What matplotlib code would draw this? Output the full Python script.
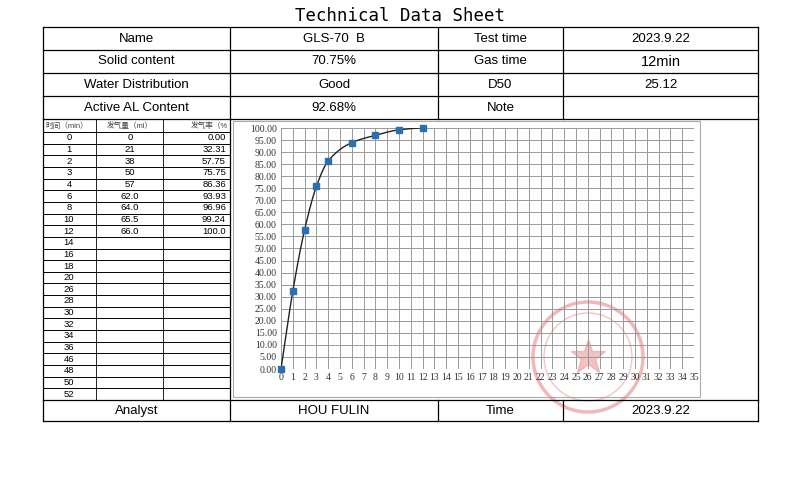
import numpy as np
import matplotlib.pyplot as plt
from matplotlib.patches import Circle

plt.rcParams['font.family'] = ['Liberation Sans', 'Noto Sans CJK SC', 'DejaVu Sans']

time_min = [0, 1, 2, 3, 4, 6, 8, 10, 12]
gas_ml = ['0', '21', '38', '50', '57', '62.0', '64.0', '65.5', '66.0']
gas_rate = [0.00, 32.31, 57.75, 75.75, 86.36, 93.93, 96.96, 99.24, 100.0]
rate_labels = ['0.00', '32.31', '57.75', '75.75', '86.36', '93.93', '96.96', '99.24', '100.0']
extra_times = [14, 16, 18, 20, 26, 28, 30, 32, 34, 36, 46, 48, 50, 52]

head_rows = [
    ('Name', 'GLS-70  B', 'Test time', '2023.9.22'),
    ('Solid content', '70.75%', 'Gas time', '12min'),
    ('Water Distribution', 'Good', 'D50', '25.12'),
    ('Active AL Content', '92.68%', 'Note', ''),
]
foot_row = ('Analyst', 'HOU FULIN', 'Time', '2023.9.22')

W, H = 800, 486
fig = plt.figure(figsize=(8, 4.86), dpi=100)
ax = fig.add_axes([0, 0, 1, 1])
ax.set_xlim(0, W)
ax.set_ylim(H, 0)
ax.axis('off')

lw = 0.9
cols = [43, 230, 438, 563, 758]
ax.text(400, 16, 'Technical Data Sheet', ha='center', va='center',
        fontsize=12.5, family='DejaVu Sans Mono')

# header rows
row_y = [27, 50, 73, 96, 119]
for i, row in enumerate(head_rows):
    yc = (row_y[i] + row_y[i + 1]) / 2
    for j, t in enumerate(row):
        fs = 10.5 if (i == 1 and j == 3) else 9.5
        ax.text((cols[j] + cols[j + 1]) / 2, yc, t, ha='center', va='center', fontsize=fs)
for y in row_y:
    ax.plot([43, 758], [y, y], color='black', lw=lw)
for x in cols:
    ax.plot([x, x], [27, 119], color='black', lw=lw)

# footer
ax.plot([43, 758], [400, 400], color='black', lw=lw)
ax.plot([43, 758], [421, 421], color='black', lw=lw)
for x in cols:
    ax.plot([x, x], [400, 421], color='black', lw=lw)
for j, t in enumerate(foot_row):
    ax.text((cols[j] + cols[j + 1]) / 2, 410.5, t, ha='center', va='center', fontsize=9.5)
ax.plot([43, 43], [119, 400], color='black', lw=lw)
ax.plot([758, 758], [119, 400], color='black', lw=lw)
ax.plot([230, 230], [119, 400], color='black', lw=lw)

# small data table
ax.plot([96, 96], [119, 400], color='black', lw=0.6)
ax.plot([163, 163], [119, 400], color='black', lw=0.6)
ax.text(45, 126, '时间（min）', ha='left', va='center', fontsize=5.5, color='#444')
ax.text(130, 126, '发气量（ml）', ha='center', va='center', fontsize=5.5, color='#444')
ax.text(228, 126, '发气率（%', ha='right', va='center', fontsize=5.5, color='#444')
all_times = time_min + extra_times
step = (400 - 132) / len(all_times)
for k, t in enumerate(all_times):
    y0 = 132 + k * step
    ax.plot([43, 230], [y0, y0], color='black', lw=0.7)
    yc = y0 + step / 2
    ax.text(69, yc, str(t), ha='center', va='center', fontsize=6.8)
    if k < len(time_min):
        ax.text(130, yc, gas_ml[k], ha='center', va='center', fontsize=6.8)
        ax.text(226, yc, rate_labels[k], ha='right', va='center', fontsize=6.8)

# chart frame
ax.add_patch(plt.Rectangle((233, 121), 467, 276, fill=False, ec='#aaaaaa', lw=0.8))

# stamp
ax.add_patch(Circle((588, 357), 55, fill=False, ec='#e88a8a', lw=2.5, alpha=0.6))
ax.add_patch(Circle((588, 357), 44, fill=False, ec='#e88a8a', lw=1, alpha=0.5))
ax.plot([588], [357], marker='*', ms=26, color='#ec9a9a', alpha=0.6)

# chart
x0, x1 = 281, 694
y0p, y1p = 369, 128
cax = fig.add_axes([x0 / W, 1 - y0p / H, (x1 - x0) / W, (y0p - y1p) / H])
cax.set_xlim(0, 35)
cax.set_ylim(0, 100)
cax.set_xticks(range(0, 36))
cax.set_yticks(np.arange(0, 101, 5))
cax.set_yticklabels(['%.2f' % v for v in np.arange(0, 101, 5)])
cax.grid(True, color='#999999', lw=0.7)
cax.set_axisbelow(True)
for s in cax.spines.values():
    s.set_visible(False)
cax.tick_params(length=0, labelsize=7, colors='#333333', pad=3)
for lab in cax.get_xticklabels() + cax.get_yticklabels():
    lab.set_family('Liberation Serif')
cax.patch.set_alpha(0)


def pchip(x, y, xs):
    x = np.asarray(x, float)
    y = np.asarray(y, float)
    h = np.diff(x)
    d = np.diff(y) / h
    m = np.zeros_like(y)
    for i in range(1, len(x) - 1):
        if d[i - 1] * d[i] > 0:
            w1 = 2 * h[i] + h[i - 1]
            w2 = h[i] + 2 * h[i - 1]
            m[i] = (w1 + w2) / (w1 / d[i - 1] + w2 / d[i])
    m[0] = d[0]
    m[-1] = d[-1] * 0.2
    out = []
    for xv in xs:
        i = min(np.searchsorted(x, xv, side='right') - 1, len(x) - 2)
        t = (xv - x[i]) / h[i]
        h00 = 2 * t**3 - 3 * t**2 + 1
        h10 = t**3 - 2 * t**2 + t
        h01 = -2 * t**3 + 3 * t**2
        h11 = t**3 - t**2
        out.append(h00 * y[i] + h10 * h[i] * m[i] + h01 * y[i + 1] + h11 * h[i] * m[i + 1])
    return np.array(out)


xs = np.linspace(0, 12, 300)
cax.plot(xs, pchip(time_min, gas_rate, xs), color='#222222', lw=1)
cax.plot(time_min, gas_rate, 's', color='#2a6fb0', ms=4, clip_on=False)

fig.savefig('out.png', dpi=100)
